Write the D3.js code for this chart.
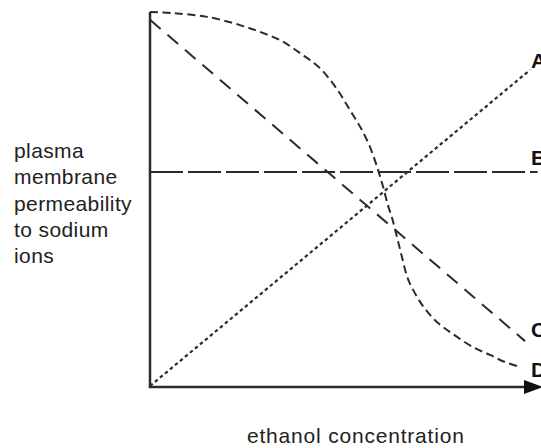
<!DOCTYPE html>
<html><head><meta charset="utf-8">
<script src="https://cdn.jsdelivr.net/npm/d3@7"></script>
<style>html,body{margin:0;padding:0;background:#fff;}svg{display:block;}</style>
</head><body>
<script>
// Data (arbitrary units: ethanol concentration 0-10, permeability 0-10)
const lineA_x = [0, 10];
const lineA_y = [0, 8.45];
const lineB_x = [0, 10.2];
const lineB_y = [5.72, 5.72];
const lineC_x = [0, 9.87];
const lineC_y = [9.79, 1.2];
const lineD_x = [0, 0.61, 1.5, 2.37, 2.89, 3.42, 3.95, 4.47, 4.92, 5.26, 5.53, 5.79, 6.0, 6.13, 6.26, 6.37, 6.5, 6.63, 6.79, 7.03, 7.24, 7.55, 7.97, 8.5, 8.95, 9.34, 9.74];
const lineD_y = [10, 9.97, 9.87, 9.65, 9.47, 9.25, 8.9, 8.5, 7.94, 7.38, 6.93, 6.39, 5.78, 5.34, 4.84, 4.49, 3.98, 3.45, 2.86, 2.38, 2.06, 1.71, 1.39, 1.04, 0.83, 0.64, 0.51];
const lineLabels = ["A", "B", "C", "D"];
const labelY = [8.5, 5.91, 1.31, 0.24];
const yTitle = ["plasma", "membrane", "permeability", "to sodium", "ions"];
const xTitle = "ethanol concentration";

const W = 541, H = 448;
const svg = d3.select("body").append("svg").attr("width", W).attr("height", H);
const x = d3.scaleLinear().domain([0, 10]).range([150, 530]);
const y = d3.scaleLinear().domain([0, 10]).range([386, 12]);
const ink = "#2b2b2b";
const font = "Liberation Sans, Arial, sans-serif";

const line = d3.line().x(d => x(d[0])).y(d => y(d[1]));
const lineSmooth = d3.line().x(d => x(d[0])).y(d => y(d[1])).curve(d3.curveCatmullRom.alpha(0.5));
const zip = (a, b) => a.map((v, i) => [v, b[i]]);

// axes
svg.append("line").attr("x1", x(0)).attr("x2", x(0)).attr("y1", y(10)).attr("y2", y(0) + 1.5)
  .attr("stroke", ink).attr("stroke-width", 2.5);
svg.append("line").attr("x1", x(0) - 1.2).attr("x2", 528).attr("y1", y(0) + 1).attr("y2", y(0) + 1)
  .attr("stroke", ink).attr("stroke-width", 2.5);
svg.append("path").attr("d", `M${524},${y(0) + 1 - 7} L${543},${y(0) + 1} L${524},${y(0) + 1 + 7} Z`).attr("fill", "#111");

// lines
svg.append("path").attr("d", line(zip(lineA_x, lineA_y))).attr("fill", "none")
  .attr("stroke", ink).attr("stroke-width", 2.2).attr("stroke-dasharray", "3.5,3");
svg.append("path").attr("d", line(zip(lineB_x, lineB_y))).attr("fill", "none")
  .attr("stroke", ink).attr("stroke-width", 2).attr("stroke-dasharray", "33,5");
svg.append("path").attr("d", line(zip(lineC_x, lineC_y))).attr("fill", "none")
  .attr("stroke", ink).attr("stroke-width", 2).attr("stroke-dasharray", "14,9");
svg.append("path").attr("d", lineSmooth(zip(lineD_x, lineD_y))).attr("fill", "none")
  .attr("stroke", ink).attr("stroke-width", 2).attr("stroke-dasharray", "8,4.5");

// labels
svg.selectAll("text.lab").data(lineLabels).enter().append("text")
  .attr("x", 531).attr("y", (d, i) => y(labelY[i]))
  .attr("font-family", font).attr("font-weight", "bold")
  .attr("font-size", 21).attr("fill", "#111").text(d => d);

// y title
svg.append("text").attr("font-family", font).attr("font-size", 21)
  .attr("fill", "#222").attr("letter-spacing", 0.4)
  .selectAll("tspan").data(yTitle).enter().append("tspan")
  .attr("x", 14).attr("y", (d, i) => 158 + i * 26.3).text(d => d);

// x title
svg.append("text").attr("x", 247).attr("y", 443)
  .attr("font-family", font).attr("font-size", 21).attr("letter-spacing", 0.8)
  .attr("fill", "#222").text(xTitle);
</script>
</body></html>
